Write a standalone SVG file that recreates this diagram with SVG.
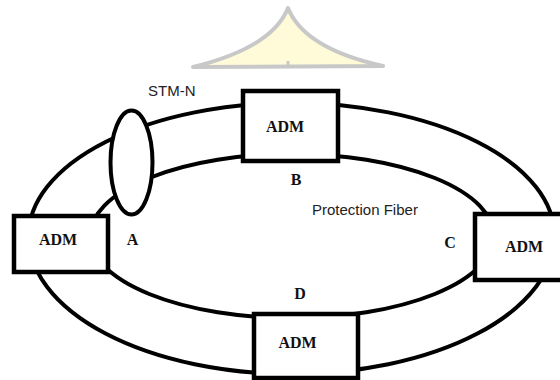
<svg xmlns="http://www.w3.org/2000/svg" width="560" height="380" viewBox="0 0 560 380">
<style>
.ring{fill:none;stroke:#000;stroke-width:4}
.box{fill:#fff;stroke:#000;stroke-width:4.5}
.adm{font-family:"Liberation Serif",serif;font-weight:bold;font-size:16px;fill:#111;text-anchor:middle}
.lbl{font-family:"Liberation Serif",serif;font-weight:bold;font-size:16px;fill:#111;text-anchor:middle}
.sans{font-family:"Liberation Sans",Arial,sans-serif;font-size:15px;fill:#222}
</style>
<rect width="560" height="380" fill="#fff"/>
<g id="watermark">
<path d="M193,67 C238,56 276,38 288,8 C300,38 338,56 383,66 Z" fill="#fffbd8" stroke="#c8c8c8" stroke-width="4" stroke-linejoin="round"/>
<line x1="288" y1="61" x2="288" y2="67" stroke="#c8c8c8" stroke-width="3"/>
</g>
<g id="connectors">
<path class="ring" d="M28.5,236 A263,133 0 0 1 554.5,236 A263,138 0 0 1 28.5,236 Z"/>
<ellipse class="ring" cx="292" cy="236" rx="202" ry="82"/>
</g>
<g id="stm-n">
<ellipse cx="131.5" cy="162.5" rx="21" ry="52" fill="#fff" stroke="#000" stroke-width="4"/>
<text class="sans" x="148" y="96">STM-N</text>
</g>
<g id="adm-a">
<rect class="box" x="14" y="216" width="94" height="56"/>
<text class="adm" x="58" y="245">ADM</text>
<text class="lbl" x="132.5" y="245">A</text>
</g>
<g id="adm-b">
<rect class="box" x="243" y="91" width="95" height="70"/>
<text class="adm" x="285" y="132">ADM</text>
<text class="lbl" x="296" y="185">B</text>
</g>
<g id="adm-c">
<rect class="box" x="475" y="214" width="92" height="66"/>
<text class="adm" x="524" y="252">ADM</text>
<text class="lbl" x="450" y="248">C</text>
</g>
<g id="adm-d">
<rect class="box" x="254" y="314" width="104" height="64"/>
<text class="adm" x="297.5" y="348">ADM</text>
<text class="lbl" x="300" y="299">D</text>
</g>
<text class="sans" x="312" y="215">Protection Fiber</text>
</svg>
